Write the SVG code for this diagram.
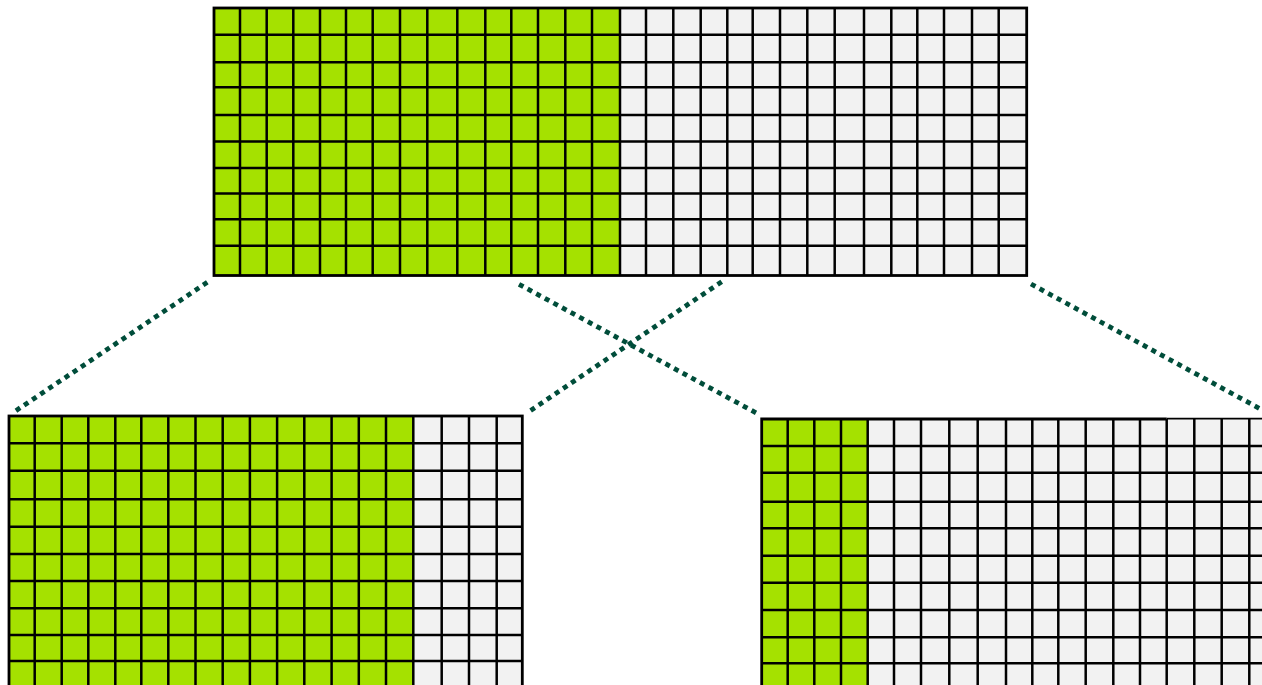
<svg xmlns="http://www.w3.org/2000/svg" width="1262" height="685" viewBox="0 0 1262 685">
<style>
.g{fill:#a5e100}
.w{fill:#f2f2f2}
.ln{fill:none;stroke:#000;stroke-width:2.5}
.bd{fill:none;stroke:#000;stroke-width:2.8}
.dot{fill:none;stroke:#004d3a;stroke-width:4.8;stroke-dasharray:5 4.8}
</style>
<rect width="1262" height="685" fill="#fff"/>
<g id="top-grid">
<rect class="g" x="214" y="8" width="406" height="267.5"/>
<rect class="w" x="620" y="8" width="406.7" height="267.5"/>
<path class="ln" d="M214 34.7H1026.7M214 62.3H1026.7M214 87.3H1026.7M214 115H1026.7M214 141.5H1026.7M214 168H1026.7M214 193.5H1026.7M214 219.3H1026.7M214 245.7H1026.7
M240 8V275.5M266.7 8V275.5M293.3 8V275.5M320 8V275.5M346 8V275.5M372.7 8V275.5M400 8V275.5M427.3 8V275.5M457.3 8V275.5M485.3 8V275.5M511.3 8V275.5M538 8V275.5M565.3 8V275.5M592 8V275.5M620 8V275.5M646 8V275.5M673.3 8V275.5M700.7 8V275.5M727.3 8V275.5M752.7 8V275.5M780 8V275.5M807.3 8V275.5M834.7 8V275.5M864 8V275.5M891.3 8V275.5M917.3 8V275.5M944 8V275.5M972 8V275.5M998.7 8V275.5"/>
<rect class="bd" x="214" y="8" width="812.7" height="267.5"/>
</g>
<g id="bottom-left-grid">
<rect class="g" x="9" y="416" width="404.3" height="274"/>
<rect class="w" x="413.3" y="416" width="109" height="274"/>
<path class="ln" d="M9 443.3H522.3M9 470.7H522.3M9 499.3H522.3M9 526.7H522.3M9 554H522.3M9 581H522.3M9 608.3H522.3M9 635H522.3M9 661H522.3
M34.7 416V690M61.7 416V690M88.3 416V690M115.3 416V690M141.3 416V690M168.3 416V690M195.5 416V690M222.7 416V690M249.9 416V690M277.1 416V690M304.3 416V690M331.6 416V690M358.8 416V690M386 416V690M413.3 416V690M441.7 416V690M469 416V690M496.7 416V690"/>
<rect class="bd" x="9" y="416" width="513.3" height="271"/>
</g>
<g id="bottom-right-grid">
<rect class="g" x="761.7" y="419" width="106" height="274"/>
<rect class="w" x="867.7" y="419" width="410" height="274"/>
<path class="ln" d="M761.7 446H1280M761.7 472.7H1280M761.7 501.7H1280M761.7 528.3H1280M761.7 555.7H1280M761.7 582.7H1280M761.7 610H1280M761.7 637.3H1280M761.7 663.3H1280M761.7 690H1280
M787.7 419V693M814.3 419V693M841 419V693M867.7 419V693M894 419V693M921 419V693M949.3 419V693M977.7 419V693M1006 419V693M1032.3 419V693M1058.3 419V693M1085.7 419V693M1113.3 419V693M1140 419V693M1166.7 419V693M1194.3 419V693M1221.7 419V693M1249.3 419V693"/>
<path class="bd" d="M761.7 693V419H1166.7"/>
<path fill="none" stroke="#000" stroke-width="1.6" d="M1166.7 418.6H1280"/>
</g>
<g id="connectors">
<path class="dot" d="M207.3 282.3L12 413.3"/>
<path class="dot" d="M519 284.3L760 415"/>
<path class="dot" d="M721.7 281.7L527.3 412.7"/>
<path class="dot" d="M1031 284L1265 411.5"/>
</g>
</svg>
